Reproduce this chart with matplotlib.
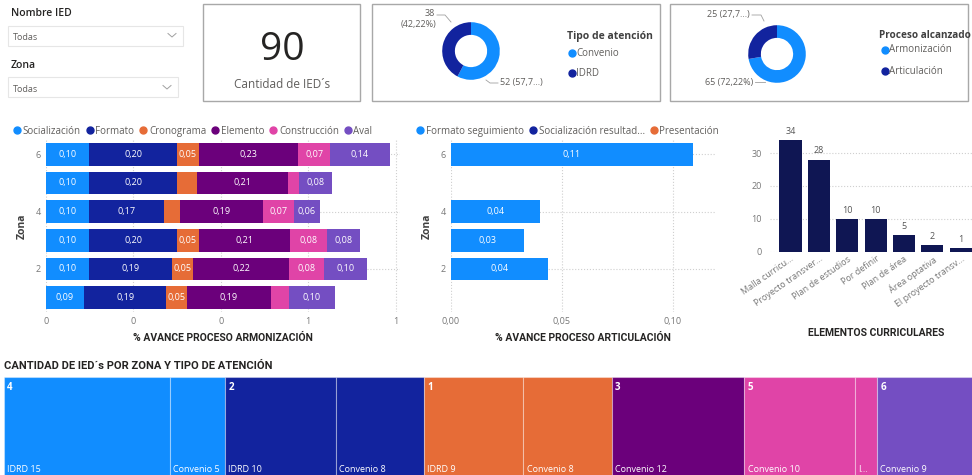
import matplotlib
matplotlib.use("Agg")
import matplotlib.pyplot as plt
from matplotlib.lines import Line2D
from matplotlib.patches import Rectangle

plt.rcParams['font.family'] = ['Open Sans', 'DejaVu Sans']

W, H = 972, 475

# Power BI palette
C_LBLUE = '#118DFF'
C_DBLUE = '#12239E'
C_ORANGE = '#E66C37'
C_PURPLE = '#6B007B'
C_PINK = '#E044A7'
C_VIOLET = '#744EC2'
C_NAVY = '#0F1653'
GRAY_TXT = '#605E5C'

# ---- data ----
total_ied = 90

tipo_labels = ['Convenio', 'IDRD']
tipo_values = [52, 38]

proceso_labels = ['Armonización', 'Articulación']
proceso_values = [65, 25]

zonas = [1, 2, 3, 4, 5, 6]
armon_series = ['Socialización', 'Formato', 'Cronograma', 'Elemento', 'Construcción', 'Aval']
socializacion = [0.088, 0.100, 0.100, 0.100, 0.100, 0.100]
formato = [0.187, 0.188, 0.200, 0.170, 0.200, 0.200]
cronograma = [0.048, 0.049, 0.050, 0.037, 0.046, 0.050]
elemento = [0.191, 0.220, 0.208, 0.189, 0.208, 0.227]
construccion = [0.042, 0.079, 0.084, 0.071, 0.025, 0.073]
aval = [0.105, 0.099, 0.076, 0.059, 0.076, 0.136]

art_series = ['Formato seguimiento', 'Socialización resultad...', 'Presentación']
art_zonas = [2, 3, 4, 6]
formato_seguimiento = [0.044, 0.033, 0.040, 0.109]

elementos = ['Malla curricu...', 'Proyecto transver...', 'Plan de estudios', 'Por definir',
             'Plan de área', 'Área optativa', 'El proyecto transv...']
elementos_count = [34, 28, 10, 10, 5, 2, 1]

# treemap: zone, tipo, count (order as drawn)
tm_zona = [4, 4, 2, 2, 1, 1, 3, 5, 5, 6, 6]
tm_tipo = ['IDRD', 'Convenio', 'IDRD', 'Convenio', 'IDRD', 'Convenio', 'Convenio',
           'Convenio', 'IDRD', 'Convenio', 'IDRD']
tm_count = [15, 5, 10, 8, 9, 8, 12, 10, 2, 9, 2]

zona_color = {1: C_ORANGE, 2: C_DBLUE, 3: C_PURPLE, 4: C_LBLUE, 5: C_PINK, 6: C_VIOLET}


def box(x0, y0, x1, y1):
    # pixel box (top-left origin) -> figure fraction rect
    return [x0 / W, 1 - y1 / H, (x1 - x0) / W, (y1 - y0) / H]


def fmt_comma(v, nd=2):
    return f"{v:.{nd}f}".replace('.', ',')


fig = plt.figure(figsize=(W / 100, H / 100), dpi=100)
fig.patch.set_facecolor('white')

# overlay in pixel coords for cards, slicers, titles
ov = fig.add_axes([0, 0, 1, 1])
ov.set_xlim(0, W)
ov.set_ylim(H, 0)
ov.axis('off')

# slicers
ov.text(11, 14, 'Nombre IED', fontsize=7.5, fontweight='semibold', color='#252423', va='center')
ov.add_patch(Rectangle((8, 26), 175, 20, fill=False, ec='#E6E6E6', lw=0.8))
ov.text(13, 37.5, 'Todas', fontsize=6.5, color=GRAY_TXT, va='center')
ov.plot([168, 172, 176], [33.5, 37, 33.5], color='#A0A0A0', lw=0.7)
ov.text(11, 65, 'Zona', fontsize=7.5, fontweight='semibold', color='#252423', va='center')
ov.add_patch(Rectangle((8, 77), 170, 20, fill=False, ec='#E6E6E6', lw=0.8))
ov.text(13, 89, 'Todas', fontsize=6.5, color=GRAY_TXT, va='center')
ov.plot([163, 167, 171], [85.5, 89, 85.5], color='#A0A0A0', lw=0.7)

# KPI card
ov.add_patch(Rectangle((203, 4), 157, 97, fill=False, ec='#A8A8A8', lw=1))
ov.text(282, 50, str(total_ied), fontsize=28, color='#252423', ha='center', va='center')
ov.text(282, 84, 'Cantidad de IED´s', fontsize=8.5, color=GRAY_TXT, ha='center', va='center')

# donut cards
ov.add_patch(Rectangle((372, 4), 288, 97, fill=False, ec='#A8A8A8', lw=1))
ov.add_patch(Rectangle((670, 4), 298, 97, fill=False, ec='#A8A8A8', lw=1))


def donut(cx, cy, r, values, colors):
    ax = fig.add_axes(box(cx - r, cy - r, cx + r, cy + r))
    ax.pie(values, colors=colors, startangle=90, counterclock=False,
           wedgeprops=dict(width=0.44, edgecolor='none'))
    ax.set_aspect('equal')
    ax.axis('off')
    return ax


donut(471, 51, 36, tipo_values, [C_LBLUE, C_DBLUE])
donut(777, 54, 36, proceso_values, [C_LBLUE, C_DBLUE])

pct_t = [v / sum(tipo_values) * 100 for v in tipo_values]
pct_p = [v / sum(proceso_values) * 100 for v in proceso_values]
ov.text(435, 13, f"{tipo_values[1]}", fontsize=6.5, color=GRAY_TXT, ha='right', va='center')
ov.text(436, 25, f"({fmt_comma(pct_t[1])}%)", fontsize=6.5, color=GRAY_TXT, ha='right', va='center')
ov.plot([437, 445, 451], [15, 15, 22], color='#A0A0A0', lw=0.6)
ov.text(500, 83, f"{tipo_values[0]} ({fmt_comma(pct_t[0])[:4]}...)", fontsize=6.5, color=GRAY_TXT, va='center')
ov.plot([486, 490, 498], [80, 83, 83], color='#A0A0A0', lw=0.6)

ov.text(750, 15, f"{proceso_values[1]} ({fmt_comma(pct_p[1])[:4]}...)", fontsize=6.5, color=GRAY_TXT, ha='right', va='center')
ov.plot([752, 761, 764], [15, 15, 21], color='#A0A0A0', lw=0.6)
ov.text(753, 82, f"{proceso_values[0]} ({fmt_comma(pct_p[0])}%)", fontsize=6.5, color=GRAY_TXT, ha='right', va='center')
ov.plot([755, 765], [82, 82], color='#A0A0A0', lw=0.6)

# donut legends
ov.text(567, 36, 'Tipo de atención', fontsize=7.5, fontweight='bold', color='#404040', va='center')
for i, (lab, col) in enumerate(zip(tipo_labels, [C_LBLUE, C_DBLUE])):
    y = 53 + i * 20
    ov.plot([572], [y], marker='o', ms=5, color=col)
    ov.text(576, y, lab, fontsize=7, color=GRAY_TXT, va='center')
ov.text(879, 35, 'Proceso alcanzado', fontsize=7.2, fontweight='bold', color='#404040', va='center')
for i, (lab, col) in enumerate(zip(proceso_labels, [C_LBLUE, C_DBLUE])):
    y = 50 + i * 21
    ov.plot([885], [y], marker='o', ms=5, color=col)
    ov.text(889, y, lab, fontsize=7, color=GRAY_TXT, va='center')


def style_axes(ax):
    for s in ax.spines.values():
        s.set_visible(False)
    ax.tick_params(length=0, labelsize=6.5, labelcolor='#777777')
    ax.set_axisbelow(True)


def legend_row(ax, names, colors, x_anchor):
    handles = [Line2D([], [], marker='o', ls='', ms=5, color=c) for c in colors]
    ax.legend(handles, names, loc='lower left', bbox_to_anchor=(x_anchor, 1.02), ncol=len(names),
              frameon=False, fontsize=7, handletextpad=0.2, columnspacing=0.5,
              handlelength=0.8, borderaxespad=0, borderpad=0, labelcolor=GRAY_TXT)


title_kw = dict(fontsize=7.5, fontweight='bold', color='#252423', family=['Roboto', 'DejaVu Sans'])

# ---- stacked bar: armonizacion ----
ax1 = fig.add_axes(box(45.7, 140, 400, 312))
series = [socializacion, formato, cronograma, elemento, construccion, aval]
colors = [C_LBLUE, C_DBLUE, C_ORANGE, C_PURPLE, C_PINK, C_VIOLET]
left = [0.0] * len(zonas)
for name, vals, col in zip(armon_series, series, colors):
    bars = ax1.barh(zonas, vals, left=left, height=0.78, color=col, label=name)
    labs = [fmt_comma(v) if v >= 0.0475 else '' for v in vals]
    ax1.bar_label(bars, labels=labs, label_type='center', color='white', fontsize=6.5)
    left = [a + b for a, b in zip(left, vals)]
ax1.set_xlim(0, 0.81)
ax1.set_ylim(0.5, 6.5)
ax1.set_xticks([0, 0.2, 0.4, 0.6, 0.8])
ax1.set_xticklabels([f"{t:.0f}" for t in [0, 0.2, 0.4, 0.6, 0.8]])
ax1.set_yticks([2, 4, 6])
ax1.grid(True, ls=':', color='#CFCFCF', lw=0.8)
style_axes(ax1)
ax1.set_ylabel('Zona', fontsize=7.5, fontweight='bold', color='#404040', labelpad=6)
ax1.set_xlabel('% AVANCE PROCESO ARMONIZACIÓN', labelpad=5, **title_kw)
legend_row(ax1, armon_series, colors, -0.092)

# ---- bar: articulacion ----
ax2 = fig.add_axes(box(450.7, 140, 715, 312))
ax2.barh(art_zonas, formato_seguimiento, height=0.78, color=C_LBLUE)
ax2.bar_label(ax2.containers[0], labels=[fmt_comma(v) for v in formato_seguimiento],
              label_type='center', color='white', fontsize=6.5)
ax2.set_xlim(0, 0.119)
ax2.set_ylim(0.5, 6.5)
ax2.set_xticks([0, 0.05, 0.10])
ax2.set_xticklabels([fmt_comma(t) for t in [0, 0.05, 0.10]])
ax2.set_yticks([2, 4, 6])
ax2.grid(True, ls=':', color='#CFCFCF', lw=0.8)
style_axes(ax2)
ax2.set_ylabel('Zona', fontsize=7.5, fontweight='bold', color='#404040', labelpad=6)
ax2.set_xlabel('% AVANCE PROCESO ARTICULACIÓN', labelpad=5, **title_kw)
legend_row(ax2, art_series, [C_LBLUE, C_DBLUE, C_ORANGE], -0.13)

# ---- column: elementos curriculares ----
ax3 = fig.add_axes(box(770, 130, 975, 251.7))
x = list(range(len(elementos)))
ax3.bar(x, elementos_count, width=0.78, color=C_NAVY)
ax3.bar_label(ax3.containers[0], padding=3, fontsize=6.5, color='#555555')
ax3.set_xlim(-0.72, 6.5)
ax3.set_ylim(0, 37)
ax3.set_yticks([0, 10, 20, 30])
ax3.set_xticks(x)
ax3.set_xticklabels(elementos, rotation=35, ha='right', rotation_mode='anchor', fontsize=6.8)
ax3.grid(True, axis='y', ls=':', color='#CFCFCF', lw=0.8)
style_axes(ax3)
ax3.tick_params(axis='x', pad=2)
ax3.tick_params(axis='y', pad=6)
ov.text(876, 333, 'ELEMENTOS CURRICULARES', ha='center', va='center', **title_kw)

# ---- treemap ----
ov.text(4, 366, 'CANTIDAD DE IED´s POR ZONA Y TIPO DE ATENCIÓN', fontsize=8, fontweight='bold',
        color='#252423', va='center', family=['Roboto', 'DejaVu Sans'])
tm_total = sum(tm_count)
px_per_unit = 11.05
ax4 = fig.add_axes(box(4, 377, 4 + px_per_unit * tm_total, 487))
ax4.set_xlim(0, tm_total)
ax4.set_ylim(1, 0)
ax4.axis('off')
pos = 0
seen = set()
for z, t, c in zip(tm_zona, tm_tipo, tm_count):
    ax4.add_patch(Rectangle((pos, 0), c, 1, facecolor=zona_color[z], edgecolor=(1, 1, 1, 0.35), lw=0.8))
    if z not in seen:
        ax4.text(pos + 0.3, 0.1, str(z), color='white', fontsize=7, fontweight='bold', va='center')
        seen.add(z)
    # tiles starting past the right edge of the page are not visible
    if 4 + pos * px_per_unit < W - 10:
        lab = f"{t} {c}" if c > 2 else 'I...'
        ax4.text(pos + 0.3, 0.84, lab, color='white', fontsize=6.5, va='center')
    pos += c

fig.savefig('out.png', dpi=100)
